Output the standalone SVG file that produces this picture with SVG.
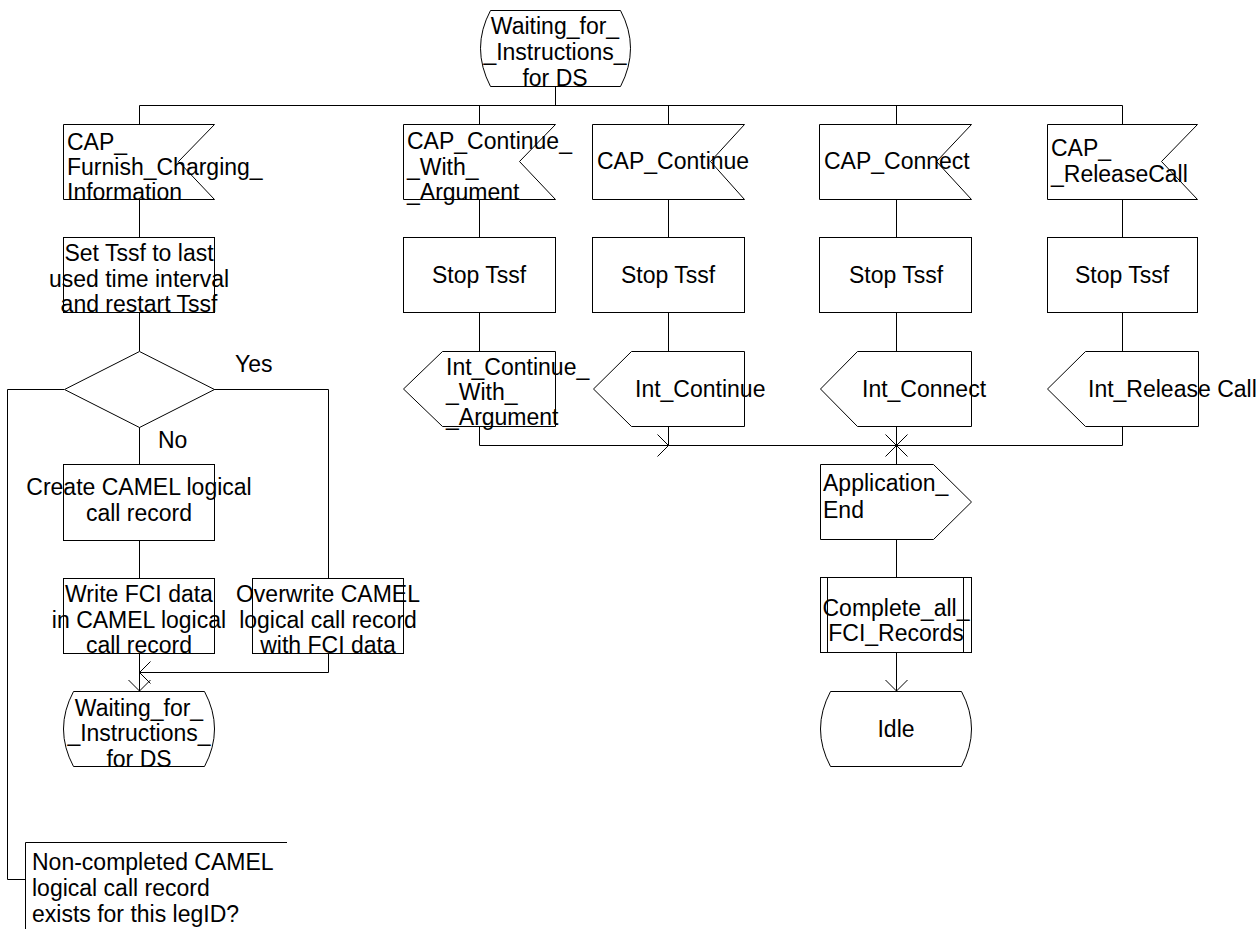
<svg xmlns="http://www.w3.org/2000/svg" width="1259" height="929" viewBox="0 0 1259 929">
<style>
.s{fill:#fff;stroke:#000;stroke-width:1}
.c{fill:none;stroke:#000;stroke-width:1}
text{font-family:"Liberation Sans",Arial,sans-serif;font-size:23px;fill:#000}
.m{text-anchor:middle}
</style>
<defs>
<marker id="arr" markerWidth="26" markerHeight="26" viewBox="-13 -13 26 26" refX="0" refY="0" orient="auto" markerUnits="userSpaceOnUse">
<path d="M-11,-11 L0,0 L-11,11" fill="none" stroke="#000" stroke-width="1"/>
</marker>
</defs>
<rect width="1259" height="929" fill="#fff"/>

<g id="connectors">
<path class="c" d="M555.5,86 V105.5" stroke-width="2"/>
<path class="c" d="M139.5,105.5 H1122.5"/>
<path class="c" d="M555.5,105.5 H896.5" stroke-width="2"/>
<path class="c" d="M139.5,105.5 V124 M479.5,105.5 V124 M668.5,105.5 V124 M896.5,105.5 V124 M1122.5,105.5 V124"/>
<path class="c" d="M139.5,199 V237 M139.5,312 V351 M139.5,427 V464 M139.5,540 V578"/>
<path class="c" d="M64,389.5 H7.5 V879.5 H25"/>
<path class="c" d="M214,389.5 H328.5 V578"/>
<path class="c" d="M139.5,653 V691" marker-end="url(#arr)"/>
<path class="c" d="M328.5,653 V672.5 H139.5" marker-end="url(#arr)"/>
<path class="c" d="M479.5,199 V237 M479.5,312 V351 M668.5,199 V237 M668.5,312 V351 M896.5,199 V237 M896.5,312 V351 M1122.5,199 V237 M1122.5,312 V351"/>
<path class="c" d="M479.5,426 V445.5 H668.5" marker-end="url(#arr)"/>
<path class="c" d="M668.5,426 V445.5 H896.5" marker-end="url(#arr)"/>
<path class="c" d="M1122.5,426 V445.5 H896.5" marker-end="url(#arr)"/>
<path class="c" d="M896.5,426 V464"/>
<path class="c" d="M896.5,539 V577"/>
<path class="c" d="M896.5,652 V691" marker-end="url(#arr)"/>
</g>

<g id="state_top">
<path class="s" d="M490.5,10.5 H620.5 Q640.5,48 620.5,86.5 H490.5 Q470.5,48 490.5,10.5 Z"/>
<text class="m" x="555" y="34">Waiting_for_</text>
<text class="m" x="555" y="60">_Instructions_</text>
<text class="m" x="555" y="86">for DS</text>
</g>

<g id="in_fci">
<path class="s" d="M63.5,124.5 H214.5 L178.5,161.5 L214.5,199.5 H63.5 Z"/>
<text x="67" y="150">CAP_</text>
<text x="67" y="175">Furnish_Charging_</text>
<text x="67" y="200">Information</text>
</g>
<g id="in_cwa">
<path class="s" d="M403.5,124.5 H555.5 L519.5,161.5 L555.5,199.5 H403.5 Z"/>
<text x="407" y="149">CAP_Continue_</text>
<text x="407" y="175">_With_</text>
<text x="407" y="200">_Argument</text>
</g>
<g id="in_cont">
<path class="s" d="M592.5,124.5 H744.5 L710.5,161.5 L744.5,199.5 H592.5 Z"/>
<text x="597" y="169">CAP_Continue</text>
</g>
<g id="in_conn">
<path class="s" d="M819.5,124.5 H971.5 L936.5,161.5 L971.5,199.5 H819.5 Z"/>
<text x="824" y="169">CAP_Connect</text>
</g>
<g id="in_rel">
<path class="s" d="M1047.5,124.5 H1197.5 L1161.5,161.5 L1197.5,199.5 H1047.5 Z"/>
<text x="1051" y="156">CAP_</text>
<text x="1051" y="182">_ReleaseCall</text>
</g>

<g id="task_settssf">
<rect class="s" x="63.5" y="237.5" width="151" height="75"/>
<text class="m" x="139" y="261">Set Tssf to last</text>
<text class="m" x="139" y="287">used time interval</text>
<text class="m" x="139" y="312">and restart Tssf</text>
</g>
<g id="stop2"><rect class="s" x="403.5" y="237.5" width="152" height="75"/><text class="m" x="479" y="283">Stop Tssf</text></g>
<g id="stop3"><rect class="s" x="592.5" y="237.5" width="152" height="75"/><text class="m" x="668" y="283">Stop Tssf</text></g>
<g id="stop4"><rect class="s" x="819.5" y="237.5" width="152" height="75"/><text class="m" x="896" y="283">Stop Tssf</text></g>
<g id="stop5"><rect class="s" x="1047.5" y="237.5" width="150" height="75"/><text class="m" x="1122" y="283">Stop Tssf</text></g>

<g id="decision">
<path class="s" d="M139.5,351.5 L214.5,389.5 L139.5,427.5 L64.5,389.5 Z"/>
<text x="235" y="372">Yes</text>
<text x="158" y="448">No</text>
</g>

<g id="out_cwa">
<path class="s" d="M555.5,351.5 H442.5 L403.5,389 L442.5,426.5 H555.5 Z"/>
<text x="446" y="375">Int_Continue_</text>
<text x="446" y="400">_With_</text>
<text x="446" y="425">_Argument</text>
</g>
<g id="out_cont">
<path class="s" d="M744.5,351.5 H631.5 L593.5,389 L631.5,426.5 H744.5 Z"/>
<text x="635" y="397">Int_Continue</text>
</g>
<g id="out_conn">
<path class="s" d="M971.5,351.5 H857.5 L820.5,389 L857.5,426.5 H971.5 Z"/>
<text x="862" y="397">Int_Connect</text>
</g>
<g id="out_rel">
<path class="s" d="M1198.5,351.5 H1085.5 L1047.5,389 L1085.5,426.5 H1198.5 Z"/>
<text x="1088" y="397">Int_Release Call</text>
</g>

<g id="task_create">
<rect class="s" x="63.5" y="464.5" width="151" height="76"/>
<text class="m" x="139" y="495">Create CAMEL logical</text>
<text class="m" x="139" y="521">call record</text>
</g>
<g id="task_write">
<rect class="s" x="63.5" y="578.5" width="151" height="75"/>
<text class="m" x="139" y="602">Write FCI data</text>
<text class="m" x="139" y="628">in CAMEL logical</text>
<text class="m" x="139" y="653">call record</text>
</g>
<g id="task_overwrite">
<rect class="s" x="252.5" y="578.5" width="151" height="75"/>
<text class="m" x="328" y="602">Overwrite CAMEL</text>
<text class="m" x="328" y="628">logical call record</text>
<text class="m" x="328" y="653">with FCI data</text>
</g>
<g id="state_wait2">
<path class="s" d="M73.5,691.5 H204.5 Q224.5,729 204.5,766.5 H73.5 Q53.5,729 73.5,691.5 Z"/>
<text class="m" x="139" y="716">Waiting_for_</text>
<text class="m" x="139" y="741">_Instructions_</text>
<text class="m" x="139" y="767">for DS</text>
</g>

<g id="out_append">
<path class="s" d="M820.5,464.5 H933.5 L971.5,502 L933.5,539.5 H820.5 Z"/>
<text x="823" y="491">Application_</text>
<text x="823" y="518">End</text>
</g>
<g id="proc_complete">
<rect class="s" x="820.5" y="577.5" width="151" height="75"/>
<path class="c" d="M827.5,577.5 V652.5 M963.5,577.5 V652.5"/>
<text class="m" x="896" y="616">Complete_all_</text>
<text class="m" x="896" y="641">FCI_Records</text>
</g>
<g id="state_idle">
<path class="s" d="M830.5,691.5 H961.5 Q981.5,729 961.5,766.5 H830.5 Q810.5,729 830.5,691.5 Z"/>
<text class="m" x="896" y="737">Idle</text>
</g>

<g id="comment">
<path class="c" d="M287,842.5 H25.5 V929"/>
<text x="32" y="870">Non-completed CAMEL</text>
<text x="32" y="896">logical call record</text>
<text x="32" y="922">exists for this legID?</text>
</g>
</svg>
